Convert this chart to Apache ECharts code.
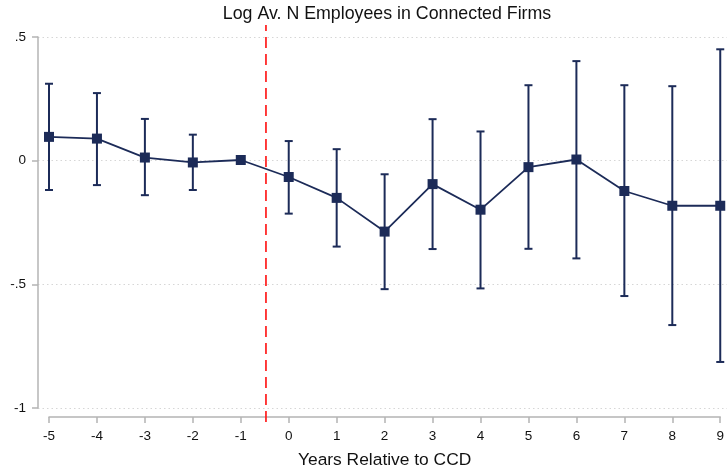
<!DOCTYPE html>
<html>
<head>
<meta charset="utf-8">
<script src="https://cdn.jsdelivr.net/npm/echarts@6/dist/echarts.min.js"></script>
<style>
  html, body { margin: 0; padding: 0; background: #fff; }
  #chart { width: 727px; height: 474px; }
</style>
</head>
<body>
<div id="chart"></div>
<script>
// Event-study estimates: log average number of employees in connected firms
const years = [-5, -4, -3, -2, -1, 0, 1, 2, 3, 4, 5, 6, 7, 8, 9];
const coef = [0.094, 0.087, 0.010, -0.010, 0.000, -0.069, -0.154, -0.291, -0.098, -0.202, -0.029, 0.002, -0.126, -0.186, -0.186];
const ciLow = [-0.122, -0.102, -0.143, -0.122, null, -0.218, -0.352, -0.525, -0.362, -0.522, -0.361, -0.400, -0.553, -0.671, -0.821];
const ciHigh = [0.310, 0.272, 0.167, 0.103, null, 0.077, 0.044, -0.058, 0.166, 0.116, 0.304, 0.402, 0.304, 0.300, 0.450];
const yTickValues = [-1, -0.5, 0, 0.5];
const yTickLabels = ['-1', '-.5', '0', '.5'];
const eventLine = -0.5;

const navy = '#1c2b58';
const axisGray = '#b4b4b4';
const font = "'Liberation Sans', Arial, Helvetica, sans-serif";

const points = years.map((x, i) => [x, coef[i]]);
const bars = [];
years.forEach((x, i) => {
  if (ciLow[i] !== null && ciHigh[i] !== null) bars.push([x, ciLow[i], ciHigh[i]]);
});

const chart = echarts.init(document.getElementById('chart'), null, { renderer: 'canvas' });

chart.setOption({
  animation: false,
  backgroundColor: '#ffffff',
  textStyle: { fontFamily: font },
  graphic: [{
    type: 'text',
    x: 387,
    y: 14,
    style: {
      text: 'Log Av. N Employees in Connected Firms',
      fontSize: 17.8,
      fontFamily: font,
      fill: '#111',
      textAlign: 'center',
      textVerticalAlign: 'middle'
    }
  }],
  grid: [
    { left: 49, right: 3, top: 37, bottom: 66 },
    { left: 38, right: 0, top: 37, bottom: 66 },
    { left: 49, right: 3, top: 25, bottom: 52 }
  ],
  xAxis: [
    {
      gridIndex: 0, type: 'value', min: -5, max: 9, interval: 1, offset: 11,
      axisLine: { show: true, onZero: false, lineStyle: { color: axisGray, width: 1.5 } },
      axisTick: { show: true, inside: false, length: 6, lineStyle: { color: axisGray, width: 1.5 } },
      axisLabel: { fontSize: 13.5, color: '#111', margin: 12, fontFamily: font },
      splitLine: { show: false },
      name: 'Years Relative to CCD', nameLocation: 'middle', nameGap: 35,
      nameTextStyle: { fontSize: 17.4, color: '#111', fontFamily: font }
    },
    { gridIndex: 1, type: 'value', min: 0, max: 1, show: false },
    { gridIndex: 2, type: 'value', min: -5, max: 9, show: false }
  ],
  yAxis: [
    { gridIndex: 0, type: 'value', min: -1, max: 0.5, show: false },
    {
      gridIndex: 1, type: 'value', min: -1, max: 0.5, interval: 0.5,
      axisLine: { show: true, onZero: false, lineStyle: { color: axisGray, width: 1.5 } },
      axisTick: { show: true, inside: false, length: 6, lineStyle: { color: axisGray, width: 1.5 } },
      axisLabel: {
        fontSize: 13.5, color: '#111', margin: 12, fontFamily: font,
        formatter: v => {
          const k = yTickValues.findIndex(t => Math.abs(t - v) < 1e-9);
          return k >= 0 ? yTickLabels[k] : '';
        }
      },
      splitLine: { show: true, lineStyle: { color: '#d6d6d6', type: [1.5, 3], width: 1 } }
    },
    { gridIndex: 2, type: 'value', min: 0, max: 1, show: false }
  ],
  series: [
    {
      // dashed marker for the event date
      type: 'line',
      xAxisIndex: 2, yAxisIndex: 2,
      data: [[eventLine, 0], [eventLine, 1]],
      symbol: 'none',
      lineStyle: { color: '#ff1a1a', width: 1.7, type: [11, 6] },
      silent: true, z: 1
    },
    {
      // confidence intervals with caps
      type: 'custom',
      xAxisIndex: 0, yAxisIndex: 0,
      clip: false,
      data: bars,
      renderItem: (params, api) => {
        const lo = api.coord([api.value(0), api.value(1)]);
        const hi = api.coord([api.value(0), api.value(2)]);
        const w = 4;
        const style = { stroke: navy, lineWidth: 2, fill: null };
        return {
          type: 'group',
          children: [
            { type: 'line', shape: { x1: lo[0], y1: lo[1], x2: hi[0], y2: hi[1] }, style },
            { type: 'line', shape: { x1: lo[0] - w, y1: lo[1], x2: lo[0] + w, y2: lo[1] }, style },
            { type: 'line', shape: { x1: hi[0] - w, y1: hi[1], x2: hi[0] + w, y2: hi[1] }, style }
          ]
        };
      },
      z: 2
    },
    {
      type: 'line',
      xAxisIndex: 0, yAxisIndex: 0,
      data: points,
      clip: false,
      symbol: 'rect',
      symbolSize: 10,
      itemStyle: { color: navy },
      lineStyle: { color: navy, width: 1.8 },
      z: 3
    }
  ]
});
</script>
</body>
</html>
